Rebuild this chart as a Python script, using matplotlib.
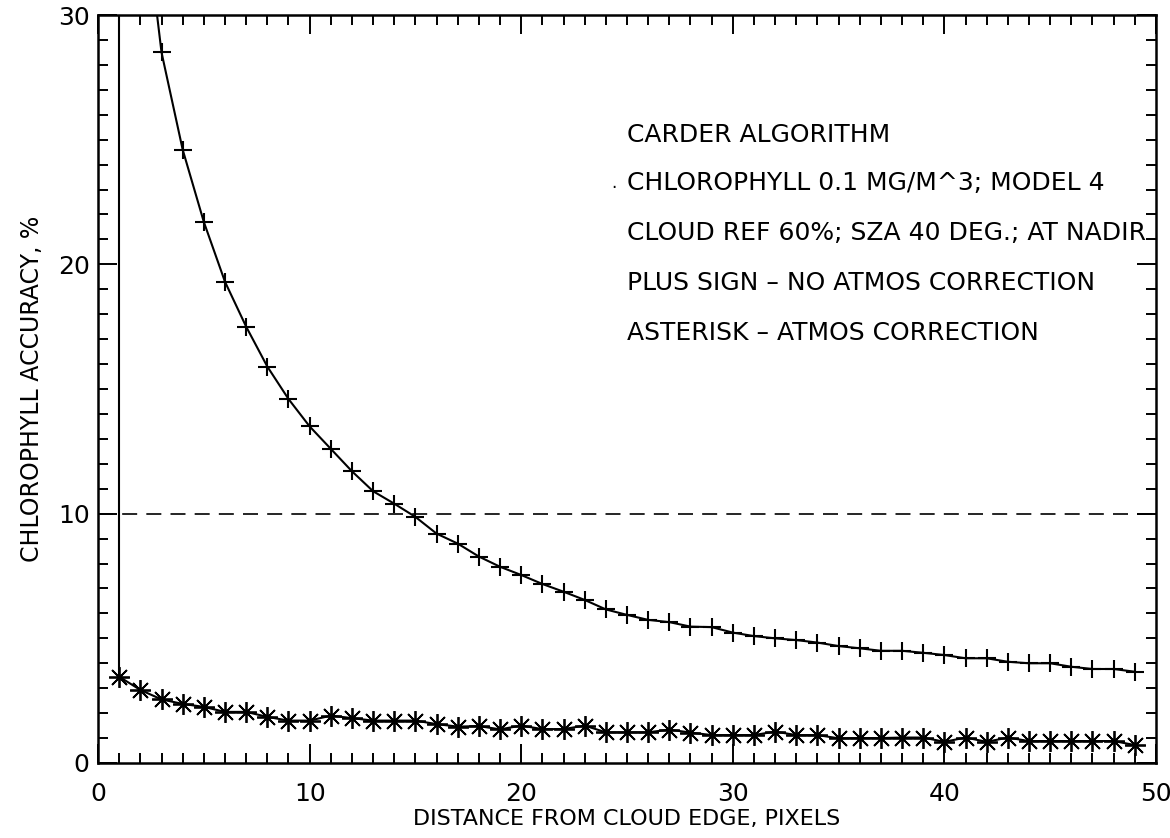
import numpy as np
import matplotlib
matplotlib.use("Agg")
import matplotlib.pyplot as plt

plt.rcParams['font.family'] = ['DejaVu Sans']

# distance from cloud edge (pixels)
dist = list(range(1, 50))

# plus sign - no atmos correction (x=1,2 are off the top of the chart)
no_corr = [60.0, 35.6, 28.5, 24.6, 21.7, 19.3, 17.5, 15.9, 14.6, 13.5,
           12.6, 11.7, 10.9, 10.4, 9.87, 9.2, 8.8, 8.28, 7.87, 7.54,
           7.18, 6.87, 6.54, 6.16, 5.94, 5.74, 5.65, 5.47, 5.45, 5.23,
           5.09, 5.0, 4.93, 4.83, 4.69, 4.6, 4.5, 4.5, 4.42, 4.33,
           4.2, 4.2, 4.06, 4.0, 4.0, 3.86, 3.77, 3.77, 3.66]

# asterisk - atmos correction
with_corr = [3.46, 2.93, 2.55, 2.37, 2.25, 2.05, 2.05, 1.85, 1.7, 1.7,
             1.9, 1.8, 1.7, 1.7, 1.7, 1.56, 1.46, 1.48, 1.35, 1.5,
             1.36, 1.36, 1.5, 1.23, 1.23, 1.23, 1.34, 1.22, 1.12, 1.12,
             1.12, 1.26, 1.12, 1.12, 0.99, 1.0, 1.0, 1.02, 1.02, 0.85,
             1.02, 0.85, 1.02, 0.88, 0.88, 0.88, 0.88, 0.88, 0.72]

threshold = 10
labels = ["CARDER ALGORITHM",
          "CHLOROPHYLL 0.1 MG/M^3; MODEL 4",
          "CLOUD REF 60%; SZA 40 DEG.; AT NADIR",
          "PLUS SIGN \u2013 NO ATMOS CORRECTION",
          "ASTERISK \u2013 ATMOS CORRECTION"]
label_y = [25.2, 23.27, 21.26, 19.25, 17.25]

fig = plt.figure(figsize=(11.7, 8.38), dpi=100)
ax = fig.add_axes([0.0838, 0.0895, 0.9042, 0.8926])

ax.plot(dist, no_corr, color='black', lw=1.5, marker='+', ms=13, mew=1.5)
ax.plot(dist, with_corr, color='black', lw=1.5, marker=(8, 2, 0), ms=15, mew=1.3)
# vertical line at the cloud edge
ax.vlines(dist[0], with_corr[0], 30, color='black', lw=1.5)
ax.axhline(threshold, color='black', lw=1.2, dashes=(9, 5.5))

ax.set_xlim(0, 50)
ax.set_ylim(0, 30)
ax.set_xticks(range(0, 51, 10))
ax.set_yticks(range(0, 31, 10))
ax.set_xticks(range(0, 51), minor=True)
ax.set_yticks(range(0, 31), minor=True)
ax.tick_params(which='both', direction='in', top=True, right=True, width=1.4,
               labelsize=18)
ax.tick_params(which='major', length=14)
ax.tick_params(which='minor', length=7)
ax.tick_params(axis='x', which='major', pad=14)
ax.tick_params(axis='y', which='major', pad=6)
for s in ax.spines.values():
    s.set_linewidth(1.8)

ax.set_xlabel("DISTANCE FROM CLOUD EDGE, PIXELS", fontsize=16, labelpad=2)
ax.set_ylabel("CHLOROPHYLL ACCURACY, %", fontsize=17, labelpad=10)

for t, y in zip(labels, label_y):
    ax.text(25.0, y, t, fontsize=18, va='center', ha='left', clip_on=False)
ax.text(24.4, label_y[1], ".", fontsize=12, va='center', ha='center')

fig.savefig("out.png", dpi=100)
